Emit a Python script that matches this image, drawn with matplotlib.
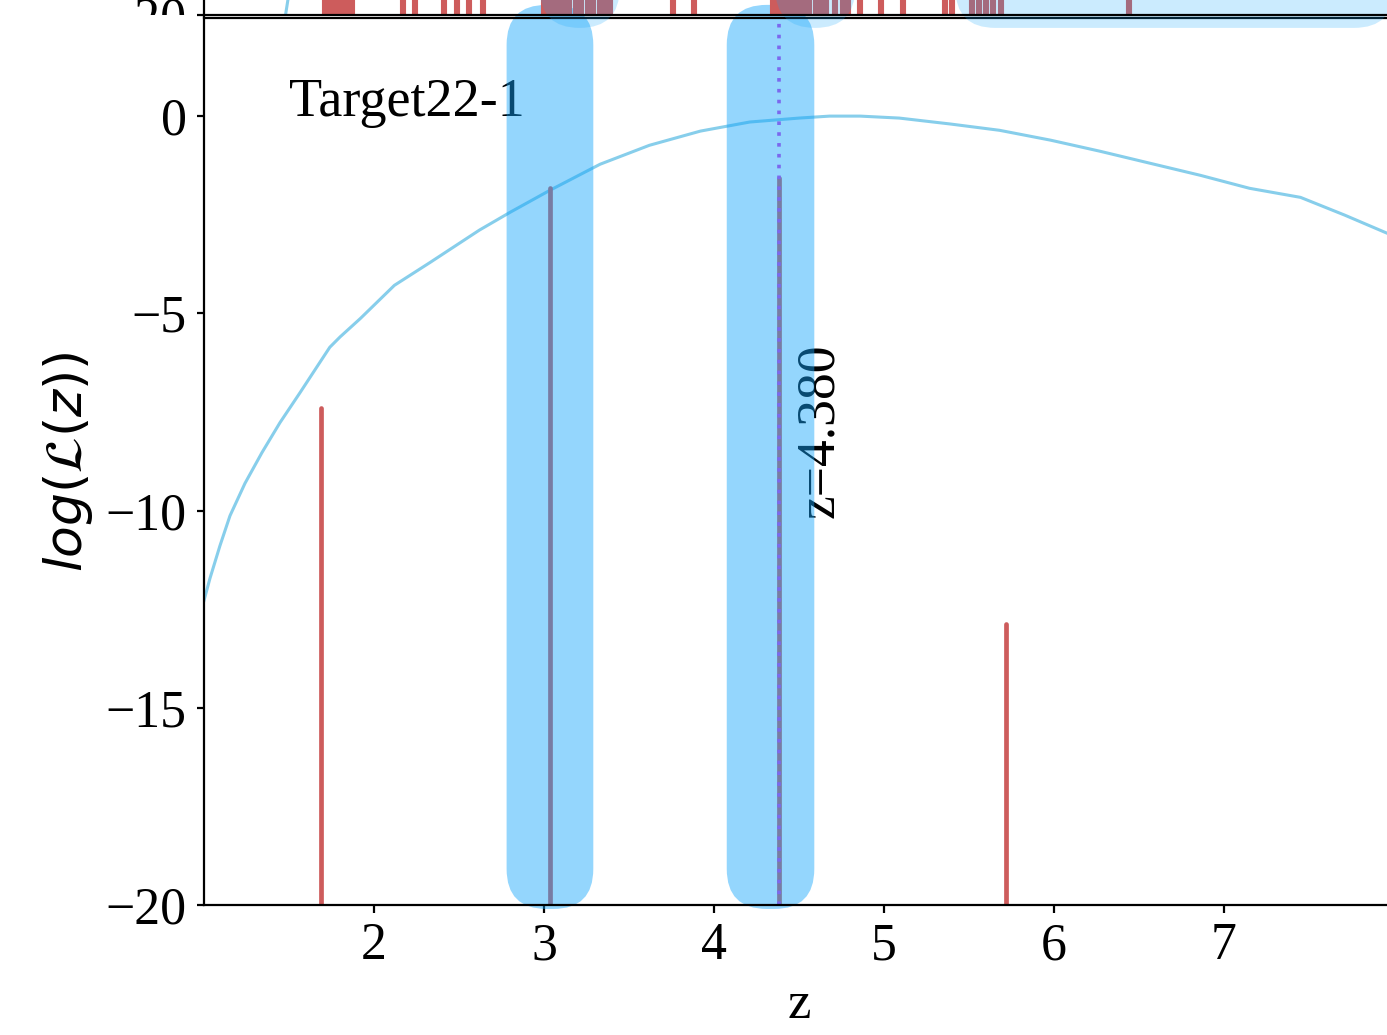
import matplotlib
matplotlib.use('Agg')
import matplotlib.pyplot as plt
from matplotlib.patches import FancyBboxPatch, BoxStyle, Rectangle

plt.rcParams['font.family'] = ['Liberation Serif', 'DejaVu Serif']
plt.rcParams['mathtext.fontset'] = 'dejavusans'
plt.rcParams['font.size'] = 18.7

# photo-z likelihood for Target22-1
z_grid = [1.0, 1.035, 1.094, 1.153, 1.241, 1.341, 1.447, 1.565, 1.682, 1.74, 1.80,
          1.92, 2.12, 2.33, 2.62, 2.80, 3.035, 3.33, 3.62, 3.92, 4.21, 4.50, 4.68,
          4.86, 5.09, 5.39, 5.68, 5.98, 6.27, 6.56, 6.86, 7.15, 7.45, 7.71, 7.96, 8.0]
log_like = [-12.28, -11.72, -10.89, -10.13, -9.31, -8.53, -7.77, -7.01, -6.24, -5.86,
            -5.60, -5.13, -4.29, -3.71, -2.89, -2.44, -1.88, -1.22, -0.74, -0.38,
            -0.15, -0.05, 0.0, 0.0, -0.05, -0.20, -0.36, -0.61, -0.89, -1.19, -1.50,
            -1.83, -2.06, -2.51, -2.97, -3.04]

# template-fit peaks
peak_z = [1.69, 3.035, 4.38, 5.72]
peak_val = [-7.41, -1.83, -1.57, -12.87]

best_z = 4.380
target = 'Target22-1'

# candidate redshift windows (z_min, z_max)
windows = [(2.78, 3.29), (4.075, 4.59)]

# neighbouring panel (only its lower edge is in frame)
top_z = [1.0, 1.2, 1.48, 1.7, 2.0, 2.5, 3.0]
top_like = [-40.0, -30.0, -20.0, -14.0, -9.0, -5.0, -3.0]
top_peak_z = [1.71, 1.73, 1.76, 1.79, 1.82, 1.85, 1.87, 2.17, 2.24, 2.41, 2.49, 2.56,
              2.64, 3.00, 3.03, 3.06, 3.09, 3.12, 3.15, 3.19, 3.22, 3.26, 3.29, 3.33,
              3.36, 3.39, 3.76, 3.88, 4.35, 4.38, 4.41, 4.44, 4.47, 4.50, 4.53, 4.56,
              4.60, 4.63, 4.66, 4.71, 4.76, 4.79, 4.86, 4.98, 5.11, 5.36, 5.40, 5.52,
              5.56, 5.60, 5.64, 5.69, 6.44]
top_windows = [(2.975, 3.445), (4.36, 4.83), (5.42, 8.0)]

zmin, zmax = 1.0, 8.0
ymin, ymax = -20.0, 2.5
box_color = '#12a4fb'

fig = plt.figure(figsize=(6.935, 5.175), dpi=200)
W, H = 1387.0, 1035.0
ax_w = (zmax - zmin) * 170 / W
ax = fig.add_axes([204 / W, (H - 905) / H, ax_w, (905 - 17.5) / H])
ax_top = fig.add_axes([204 / W, (H - 14.5) / H, ax_w, (905 - 17.5) / H])
ax_top.patch.set_visible(False)


def rounded_box(a, x0, x1, y0, y1, alpha, r_px=40):
    # rounded window whose corners stay circular on screen
    p0 = a.transData.transform((0, 0))
    px = a.transData.transform((1, 1)) - p0
    rx = r_px / px[0]
    ry = r_px / px[1]
    box = FancyBboxPatch((x0, y0), x1 - x0, y1 - y0,
                         boxstyle=BoxStyle.Round(pad=0, rounding_size=rx),
                         mutation_aspect=ry / rx, facecolor=box_color,
                         edgecolor='none', alpha=alpha, clip_on=False, zorder=2.2)
    a.add_patch(box)


for a in (ax, ax_top):
    a.set_xlim(zmin, zmax)
    a.set_ylim(ymin, ymax)
    a.tick_params(length=2.7, width=0.8, labelsize=18.7)

# main panel
ax.plot(z_grid, log_like, color='skyblue', lw=1.1, zorder=2)
for zp, lp in zip(peak_z, peak_val):
    ax.plot([zp, zp], [ymin - 5, lp], color='indianred', lw=1.7,
            solid_capstyle='round', zorder=2)
for z0, z1 in windows:
    rounded_box(ax, z0, z1, -20.1, 2.82, 0.45)
ax.axvline(best_z, color='mediumslateblue', lw=1.3, linestyle=(0, (1, 2.0)), zorder=2.4)
ax.text(1.5, 0, target, fontsize=19.5, zorder=2.1)
ax.text(best_z + 0.095, -10.2, f'z={best_z:.3f}', rotation=90, ha='left',
        va='bottom', fontsize=19.3, zorder=2.1)
ax.set_yticks([0, -5, -10, -15, -20])
ax.set_xticks([2, 3, 4, 5, 6, 7])
ax.set_xlabel('z', fontsize=19)
ax.set_ylabel(r'$log(\mathcal{L}(z))$', fontsize=18.7)

# neighbouring panel above
ax_top.plot(top_z, top_like, color='skyblue', lw=1.1, zorder=2)
for zp in top_peak_z:
    ax_top.plot([zp, zp], [ymin - 5, -5], color='indianred', lw=2.2, zorder=2)
for z0, z1 in top_windows:
    rounded_box(ax_top, z0, z1, -20.34, 3.0, 0.215)
ax_top.set_yticks([0, -5, -10, -15, -20])
ax_top.set_xticks([])

# the neighbouring panel's tick labels stop at its own frame
fig.add_artist(Rectangle((0, (H - 50) / H), 197 / W, 35 / H, transform=fig.transFigure,
                         facecolor='white', edgecolor='none', zorder=1))

fig.savefig('out.png', dpi=200)
